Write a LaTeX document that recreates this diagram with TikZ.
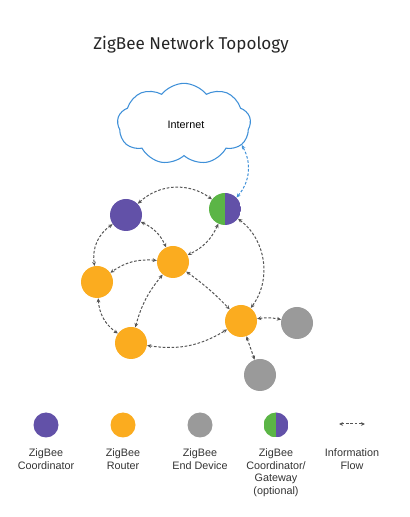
\documentclass[tikz,border=0pt]{standalone}
\usepackage{fontspec}
\setmainfont{Liberation Sans}
\newfontfamily\titlefont{Fira Sans}
\usetikzlibrary{arrows.meta,shapes.symbols}
\definecolor{zbpurple}{HTML}{6251A8}
\definecolor{zborange}{HTML}{FBAC1F}
\definecolor{zbgrey}{HTML}{9A9A9A}
\definecolor{zbgreen}{HTML}{5BB546}
\definecolor{zbblue}{HTML}{3F90D8}
\definecolor{zbflow}{HTML}{555555}
\begin{document}
\begin{tikzpicture}[x=0.75pt, y=0.75pt, font=\fontsize{8.1}{9.4}\selectfont,
  >={Stealth[length=1.1mm, width=1mm]},
  dev/.style={circle, inner sep=0pt, minimum size=24pt},
  coord/.style={dev, fill=zbpurple},
  router/.style={dev, fill=zborange},
  enddev/.style={dev, fill=zbgrey},
  gate/.style={dev, path picture={
      \fill[zbgreen] (path picture bounding box.south west) rectangle (path picture bounding box.north);
      \fill[zbpurple] (path picture bounding box.south) rectangle (path picture bounding box.north east);}},
  leg/.style={minimum size=18.75pt},
  flow/.style={<->, draw=zbflow, dash pattern=on 2pt off 1.3pt, line width=0.75pt},
  lbl/.style={align=center, anchor=north, text=black!80}]
\useasboundingbox (0,0) rectangle (410,517);
% title and cloud
\node[font=\titlefont\fontsize{12.8}{15}\selectfont, text=black!85] (title) at (191,472) {ZigBee Network Topology};
\node[cloud, cloud puffs=9, cloud puff arc=105, aspect=1.65, draw=zbblue, line width=0.8pt,
      minimum width=100pt, minimum height=61pt] (internet) at (184,393) {};
\node (inettxt) at (186,392) {Internet};
% devices
\node[coord] (coord) at (126,302) {};
\node[gate] (gw) at (225,308) {};
\node[router] (rmid) at (173,255) {};
\node[router] (rleft) at (97,235) {};
\node[router] (rbot) at (131,174) {};
\node[router] (rright) at (241,196) {};
\node[enddev] (edright) at (297,194) {};
\node[enddev] (edbot) at (260,142) {};
% information flow
\draw[flow, draw=zbblue, <->] (gw.45) to[bend right=35] (internet.-20);
\draw[flow] (coord) to[bend left=40] (gw);
\draw[flow] (coord) to[bend right=32] (rleft);
\draw[flow] (coord) to[bend left=20] (rmid);
\draw[flow] (gw) to[bend left=20] (rmid);
\draw[flow] (gw) to[bend left=45] (rright);
\draw[flow] (rmid) to[bend right=20] (rleft);
\draw[flow] (rmid) to[bend right=12] (rbot);
\draw[flow] (rmid) to[bend left=5] (rright);
\draw[flow] (rleft) to[bend right=25] (rbot);
\draw[flow] (rbot) to[bend right=20] (rright);
\draw[flow] (rright) to[bend left=10] (edright);
\draw[flow] (rright) to (edbot);
% legend
\node[coord, leg] (lcoord) at (46,92) {};
\node[router, leg] (lrouter) at (123,92) {};
\node[enddev, leg] (lend) at (200,92) {};
\node[gate, leg] (lgw) at (276,92) {};
\coordinate (lflowa) at (339,93);
\coordinate (lflowb) at (365,93);
\draw[flow] (lflowa) -- (lflowb);
\node[lbl] (tcoord) at (46,73) {ZigBee\\Coordinator};
\node[lbl] (trouter) at (123,73) {ZigBee\\Router};
\node[lbl] (tend) at (200,73) {ZigBee\\End Device};
\node[lbl] (tgw) at (276,73) {ZigBee\\Coordinator/\\Gateway\\(optional)};
\node[lbl] (tflow) at (352,73) {Information\\Flow};
\end{tikzpicture}
\end{document}
